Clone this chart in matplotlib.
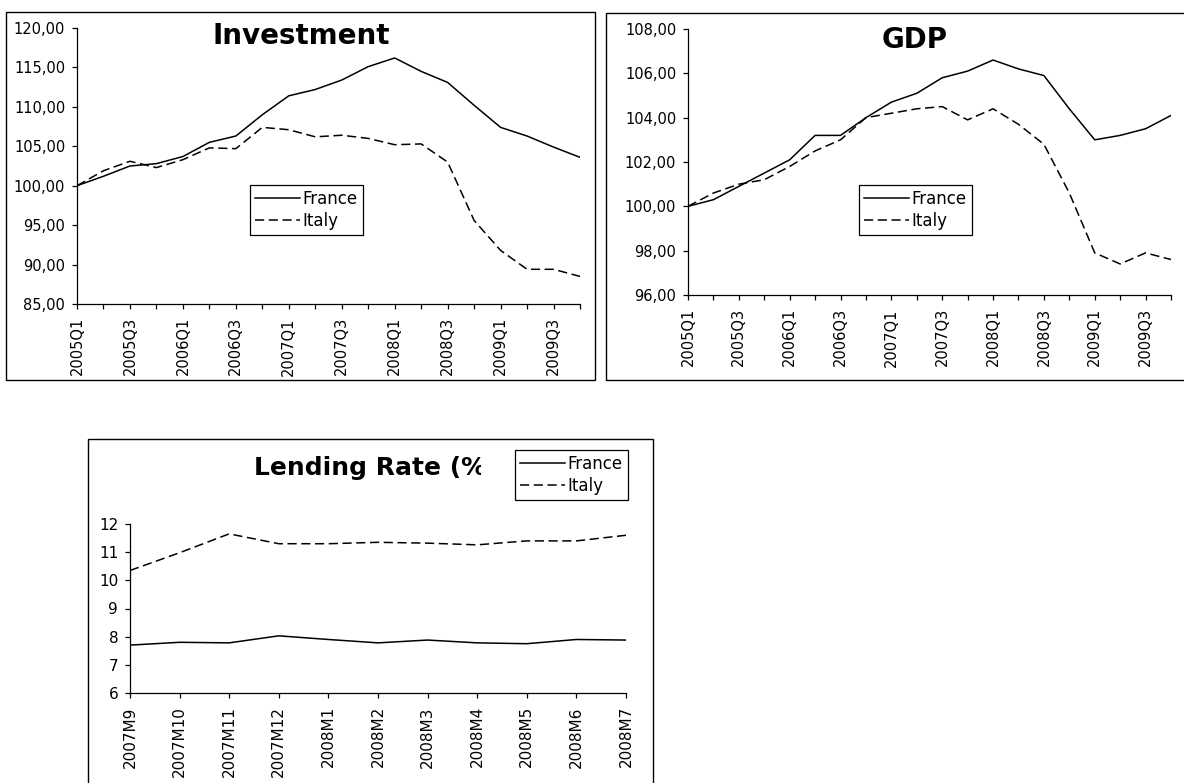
import numpy as np
import matplotlib
matplotlib.use('Agg')
import matplotlib.pyplot as plt
from matplotlib.patches import Rectangle
from matplotlib.transforms import Bbox, TransformedBbox

plt.rcParams['font.family'] = ['DejaVu Sans']

W, H = 1184, 783

# --- data ---
quarters = ['2005Q1', '2005Q2', '2005Q3', '2005Q4', '2006Q1', '2006Q2', '2006Q3', '2006Q4',
            '2007Q1', '2007Q2', '2007Q3', '2007Q4', '2008Q1', '2008Q2', '2008Q3', '2008Q4',
            '2009Q1', '2009Q2', '2009Q3', '2009Q4']
inv_france = [100.0, 101.2, 102.5, 102.8, 103.7, 105.5, 106.3, 109.0, 111.4, 112.2,
              113.4, 115.1, 116.2, 114.5, 113.1, 110.2, 107.4, 106.3, 104.9, 103.6]
inv_italy = [100.0, 101.9, 103.1, 102.3, 103.3, 104.8, 104.7, 107.4, 107.1, 106.2,
             106.4, 106.0, 105.2, 105.3, 103.0, 95.6, 91.8, 89.4, 89.4, 88.5]
gdp_france = [100.0, 100.3, 100.9, 101.5, 102.1, 103.2, 103.2, 104.0, 104.7, 105.1,
              105.8, 106.1, 106.6, 106.2, 105.9, 104.4, 103.0, 103.2, 103.5, 104.1]
gdp_italy = [100.0, 100.6, 101.0, 101.2, 101.8, 102.5, 103.0, 104.0, 104.2, 104.4,
             104.5, 103.9, 104.4, 103.7, 102.8, 100.6, 97.9, 97.4, 97.9, 97.6]
months = ['2007M9', '2007M10', '2007M11', '2007M12', '2008M1', '2008M2',
          '2008M3', '2008M4', '2008M5', '2008M6', '2008M7']
rate_france = [7.70, 7.80, 7.78, 8.03, 7.90, 7.78, 7.88, 7.78, 7.75, 7.90, 7.88]
rate_italy = [10.35, 10.98, 11.65, 11.30, 11.30, 11.35, 11.32, 11.26, 11.40, 11.40, 11.60]


def px_rect(x0, y0, x1, y1):
    return [x0 / W, 1 - y1 / H, (x1 - x0) / W, (y1 - y0) / H]


def frame(fig, x0, y0, x1, y1):
    fig.patches.append(Rectangle((x0 / W, 1 - y1 / H), (x1 - x0) / W, (y1 - y0) / H,
                                 transform=fig.transFigure, fill=False,
                                 edgecolor='black', linewidth=1.0, zorder=0))


def comma(v, dec):
    return f'{v:.{dec}f}'.replace('.', ',')


def draw_panel(ax, labels, france, italy, yticks, dec, every, fs):
    x = np.arange(len(labels))
    ax.plot(x, france, color='black', lw=1.1, label='France')
    ax.plot(x, italy, color='black', lw=1.1, dashes=(6, 3), label='Italy')
    ax.set_xlim(0, len(labels) - 1)
    ax.set_ylim(yticks[0], yticks[-1])
    ax.set_yticks(yticks)
    ax.set_yticklabels([comma(v, dec) for v in yticks], fontsize=fs)
    ax.set_xticks(x)
    ax.set_xticklabels([l if i % every == 0 else '' for i, l in enumerate(labels)],
                       rotation=90, fontsize=fs)
    for s in ['top', 'right']:
        ax.spines[s].set_visible(False)
    for s in ['left', 'bottom']:
        ax.spines[s].set_color('black')
        ax.spines[s].set_linewidth(0.9)
    ax.tick_params(direction='out', length=3.5, width=0.9, colors='black')
    ax.tick_params(axis='y', pad=5)
    ax.tick_params(axis='x', pad=6)
    ax.patch.set_alpha(0)


def add_legend(ax, fig, x0, y0, fs):
    leg = ax.legend(loc='upper left', bbox_to_anchor=(x0 / W, 1 - y0 / H),
                    bbox_transform=fig.transFigure, fancybox=False, framealpha=1,
                    edgecolor='black', fontsize=fs, handlelength=2.7,
                    handletextpad=0.15, borderpad=0.3, labelspacing=0.25,
                    borderaxespad=0)
    leg.get_frame().set_linewidth(0.9)
    leg.set_zorder(10)
    return leg


fig = plt.figure(figsize=(W / 100, H / 100), dpi=100, facecolor='white')

# chart frames
frame(fig, 6, 12, 595, 380)
frame(fig, 606, 13, 1186, 380)
frame(fig, 88, 439, 653, 790)

# Investment
ax1 = fig.add_axes(px_rect(77, 28, 580, 304))
draw_panel(ax1, quarters, inv_france, inv_italy, np.arange(85, 121, 5), 2, 2, 10.5)
fig.text(301 / W, 1 - 36 / H, 'Investment', ha='center', va='center',
         fontsize=20, fontweight='bold')
add_legend(ax1, fig, 250, 185, 12)

# GDP
ax2 = fig.add_axes(px_rect(688, 29, 1171, 295))
draw_panel(ax2, quarters, gdp_france, gdp_italy, np.arange(96, 109, 2), 2, 2, 10.5)
fig.text(915 / W, 1 - 40 / H, 'GDP', ha='center', va='center',
         fontsize=20, fontweight='bold')
add_legend(ax2, fig, 859, 185, 12)

# Lending rate (title is cut off by the legend in the original)
ax3 = fig.add_axes(px_rect(130, 524, 626, 693))
draw_panel(ax3, months, rate_france, rate_italy, np.arange(6, 13, 1), 0, 1, 11)
t = fig.text(254 / W, 1 - 468 / H, 'Lending Rate (%)', ha='left', va='center',
             fontsize=18, fontweight='bold')
t.set_clip_box(TransformedBbox(Bbox([[0, 0], [481 / W, 1]]), fig.transFigure))
t.set_clip_on(True)
add_legend(ax3, fig, 515, 450, 12)

fig.savefig('out.png', dpi=100, facecolor='white')
